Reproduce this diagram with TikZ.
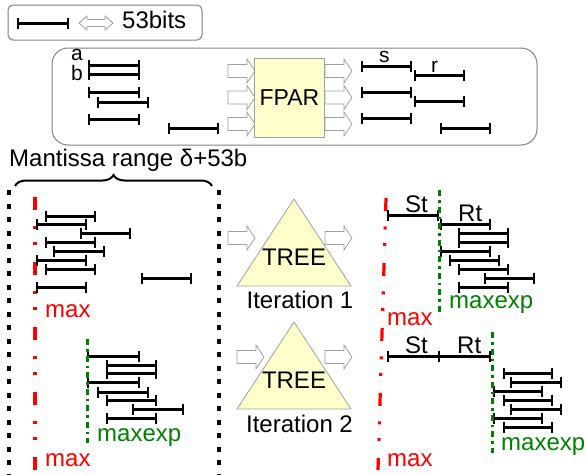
\documentclass[tikz,border=0pt]{standalone}
\usepackage{fontspec}
\setmainfont{Liberation Sans}
\usetikzlibrary{arrows.meta,decorations.pathreplacing}
\definecolor{boxfill}{HTML}{FFFFCC}
\definecolor{grn}{HTML}{008000}
\definecolor{outl}{HTML}{A0A0A0}
\begin{document}
\begin{tikzpicture}[x=1pt,y=-1pt,
  seg/.style={line width=3pt,{Bar[width=11pt,line width=2pt]}-{Bar[width=11pt,line width=2pt]}},
  lbl/.style={font=\fontsize{24}{28}\selectfont,inner sep=0pt},
  slbl/.style={font=\fontsize{21}{25}\selectfont,inner sep=0pt},
  blk/.style={draw=outl,fill=white,line width=0.8pt},
  sepl/.style={line width=3.5pt,dash pattern=on 5pt off 8.5pt},
  maxl/.style={red,line width=3.2pt,dash pattern=on 13pt off 15.5pt on 3pt off 13.5pt on 3pt off 17pt},
  mexl/.style={grn,line width=3pt,dash pattern=on 6pt off 4pt on 2.5pt off 4pt},
  panel/.style={draw=gray,line width=1pt},
  yel/.style={fill=boxfill,draw=outl,line width=0.8pt},
  barrow/.pic={\draw[blk] (0,-6.5) -- (19,-6.5) -- (19,-12) -- (27,0) -- (19,12) -- (19,6.5) -- (0,6.5) -- cycle;}
]
\useasboundingbox (0,0) rectangle (586,474);

% legend
\draw[panel,rounded corners=5pt] (8,5) rectangle (202,40);
\draw[seg] (17,23) -- (69,23);
\draw[blk] (79,23) -- (87,16) -- (87,19.5) -- (105,19.5) -- (105,16) -- (113,23) -- (105,30) -- (105,26.5) -- (87,26.5) -- (87,30) -- cycle;
\node[lbl,anchor=base west] (bits) at (122,28) {53bits};

% FPAR panel
\draw[panel,rounded corners=16pt] (52,48) rectangle (537,145);
\node[slbl,anchor=base west] (la) at (71,60.5) {a};
\node[slbl,anchor=base west] (lb) at (71,80) {b};
\draw[seg] (88,65) -- (140,65);
\draw[seg] (88,74) -- (140,74);
\draw[seg] (88,92) -- (140,92);
\draw[seg] (97,102) -- (149,102);
\draw[seg] (88,119) -- (140,119);
\draw[seg] (168,128) -- (219,128);
\foreach \yy in {71,97.5,124} {
  \pic at (228,\yy) {barrow};
  \pic at (325,\yy) {barrow};
}
\node[yel,minimum width=70pt,minimum height=79pt,inner sep=0pt,font=\fontsize{23}{27}\selectfont] (fpar) at (289.5,97.5) {FPAR};
\node[slbl,anchor=base west] (ls) at (379,62) {s};
\node[slbl,anchor=base west] (lr) at (431,72) {r};
\draw[seg] (361,66) -- (412,66);
\draw[seg] (414,75) -- (465,75);
\draw[seg] (361,92) -- (412,92);
\draw[seg] (414,101) -- (465,101);
\draw[seg] (361,118) -- (412,118);
\draw[seg] (440,128) -- (491,128);

% mantissa range
\node[lbl,anchor=base west] (mant) at (9,166) {Mantissa range δ+53b};
\draw[decorate,decoration={brace,amplitude=11pt},line width=2pt] (15,186) -- (212,186);
\draw[sepl] (9,190) -- (9,474);
\draw[sepl] (219,190) -- (219,474);

% left panel, top
\draw[maxl] (35,197) -- (35,472);
\draw[seg] (45,216) -- (96,216);
\draw[seg] (36,224) -- (87,224);
\draw[seg] (80,233) -- (131,233);
\draw[seg] (45,242) -- (96,242);
\draw[seg] (53,251) -- (105,251);
\draw[seg] (36,260) -- (87,260);
\draw[seg] (45,269) -- (96,269);
\draw[seg] (141,278) -- (192,278);
\draw[seg] (36,287) -- (87,287);
\node[lbl,anchor=base west,red] (max1) at (45,317) {max};

% left panel, bottom
\draw[seg] (87,356) -- (140,356);
\draw[seg] (106,365) -- (157,365);
\draw[seg] (106,373) -- (157,373);
\draw[seg] (87,382) -- (140,382);
\draw[seg] (97,392) -- (149,392);
\draw[seg] (106,400) -- (157,400);
\draw[seg] (132,409) -- (184,409);
\draw[seg] (106,418) -- (157,418);
\draw[mexl] (87,339) -- (87,443);
\node[lbl,anchor=base west,grn] (mexp1) at (97,441) {maxexp};
\node[lbl,anchor=base west,red] (max2) at (45,466) {max};

% trees
\pic at (228,238) {barrow};
\pic at (325,238) {barrow};
\draw[yel] (294,199) -- (351,286) -- (237,286) -- cycle;
\node[lbl] (tree1) at (294,257) {TREE};
\node[lbl,anchor=base] (it1) at (300,308) {Iteration 1};

\pic at (237,357) {barrow};
\pic at (325,357) {barrow};
\draw[yel] (294,322) -- (351,409) -- (237,409) -- cycle;
\node[lbl] (tree2) at (294,380.5) {TREE};
\node[lbl,anchor=base] (it2) at (299.5,432) {Iteration 2};

% right panel, iteration 1
\draw[maxl] (386,198) -- (378,470);
\draw[seg] (387,215) -- (439,215);
\node[lbl,anchor=base west] (st1) at (405,212) {St};
\node[lbl,anchor=base west] (rt1) at (458,221) {Rt};
\draw[seg] (440,224) -- (491,224);
\draw[seg] (458,233) -- (509,233);
\draw[seg] (458,242) -- (509,242);
\draw[seg] (440,251) -- (491,251);
\draw[seg] (449,260) -- (500,260);
\draw[seg] (458,269) -- (509,269);
\draw[seg] (484,278) -- (535,278);
\draw[seg] (458,287) -- (509,287);
\draw[mexl] (439,190) -- (439,313);
\node[lbl,anchor=base west,grn] (mexp2) at (449,308) {maxexp};
\node[lbl,anchor=base west,red] (max3) at (387,325) {max};

% right panel, iteration 2
\draw[line width=3pt,{Bar[width=11pt,line width=2pt]}-{Bar[width=11pt,line width=2pt]}] (387,356) -- (491,356);
\draw[line width=2pt] (439,350.5) -- (439,361.5);
\node[lbl,anchor=base west] (st2) at (405,353) {St};
\node[lbl,anchor=base west] (rt2) at (457,353) {Rt};
\draw[seg] (503,373) -- (553,373);
\draw[seg] (510,382) -- (562,382);
\draw[seg] (493,391) -- (543,391);
\draw[seg] (503,400) -- (553,400);
\draw[seg] (510,409) -- (562,409);
\draw[seg] (493,418) -- (543,418);
\draw[seg] (503,427) -- (553,427);
\draw[mexl] (492,332) -- (492,453);
\node[lbl,anchor=base west,grn] (mexp3) at (501,450) {maxexp};
\node[lbl,anchor=base west,red] (max4) at (387,466) {max};
\end{tikzpicture}
\end{document}
